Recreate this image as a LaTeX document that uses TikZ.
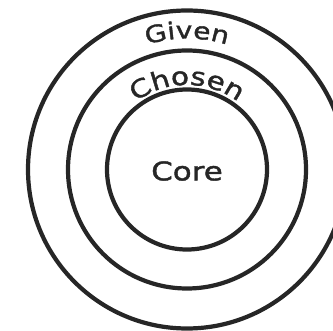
\documentclass[tikz,border=0pt]{standalone}
\usepackage{fontspec}
\newfontfamily\handfont[FakeStretch=1.2, FakeBold=1.6]{DejaVu Sans}
\usepackage{tikz}
\usetikzlibrary{decorations.text}
\tikzset{ring/.style={circle, draw=black!85, line width=3.6pt, inner sep=0pt}}

\begin{document}
\begin{tikzpicture}[font=\handfont]
    \useasboundingbox (0,0) rectangle (9.99,9.9);
    \clip (0,0) rectangle (9.99,9.9);
    \coordinate (mid) at (5.61,4.815);
    \node[ring, minimum size=9.54cm] (given) at (mid) {};
    \node[ring, minimum size=7.14cm] (chosen) at (mid) {};
    \node[ring, minimum size=4.8cm] (core) at (mid) {};
    \node[text=black!85, font=\handfont\fontsize{22}{22}\selectfont] (corelabel) at (5.61,4.77) {Core};
    \path[decorate, decoration={text along path, text align=center,
      text={|\color{black!85}\handfont\fontsize{20}{20}\selectfont|Given}}]
      ([shift={(160:3.93)}]mid) arc[start angle=160, end angle=20, radius=3.93];
    \path[decorate, decoration={text along path, text align=center,
      text={|\color{black!85}\handfont\fontsize{21}{21}\selectfont|Chosen}}]
      ([shift={(160:2.54)}]mid) arc[start angle=160, end angle=20, radius=2.54];
  \end{tikzpicture}
\end{document}
